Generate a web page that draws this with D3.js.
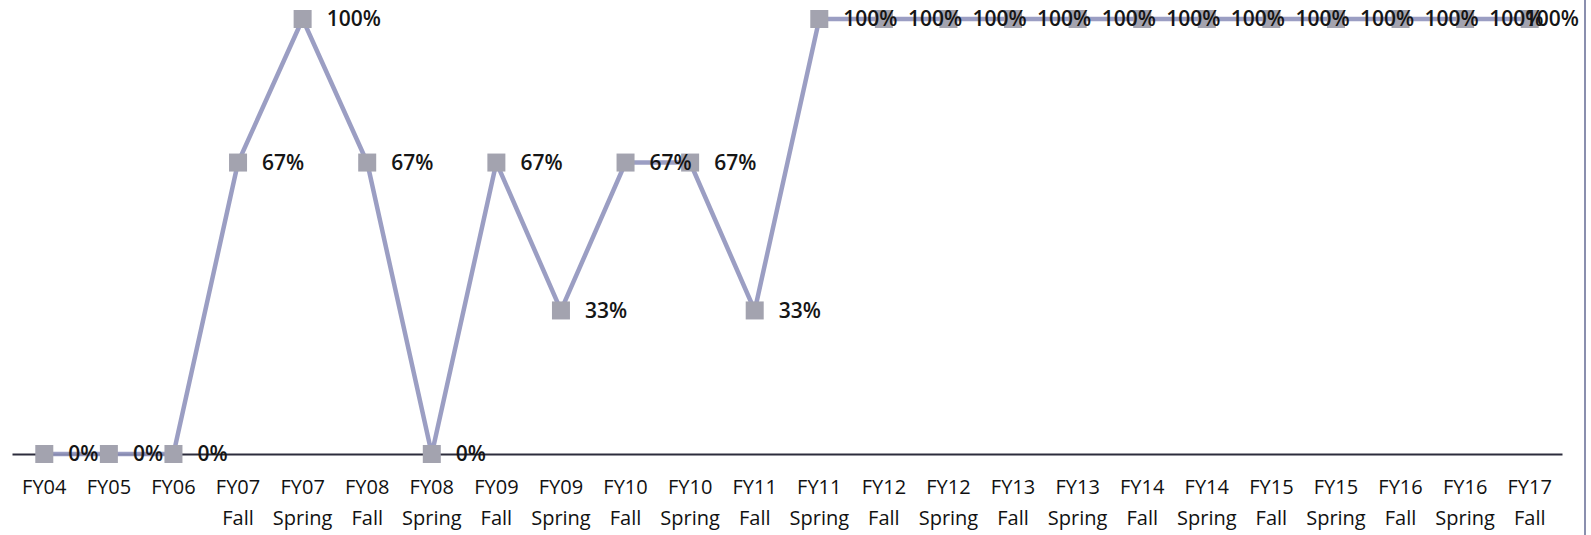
<!DOCTYPE html>
<html>
<head>
<meta charset="utf-8">
<script src="https://cdn.jsdelivr.net/npm/d3@7"></script>
<style>
  body { margin: 0; background: #fff; }
  text { font-family: "Open Sans", sans-serif; }
</style>
</head>
<body>
<div id="chart-container" style="width:1591px;height:535px"></div>
<script>
// categories (two-line tick labels) and series values
let years   = ["FY04", "FY05", "FY06", "FY07", "FY07", "FY08", "FY08", "FY09", "FY09", "FY10", "FY10", "FY11", "FY11",
               "FY12", "FY12", "FY13", "FY13", "FY14", "FY14", "FY15", "FY15", "FY16", "FY16", "FY17"],
    terms   = ["", "", "", "Fall", "Spring", "Fall", "Spring", "Fall", "Spring", "Fall", "Spring", "Fall", "Spring",
               "Fall", "Spring", "Fall", "Spring", "Fall", "Spring", "Fall", "Spring", "Fall", "Spring", "Fall"],
    values  = [0, 0, 0, 0.67, 1, 0.67, 0, 0.67, 0.33, 0.67, 0.67, 0.33, 1,
               1, 1, 1, 1, 1, 1, 1, 1, 1, 1, 1];

let categories = years.map((y, i) => terms[i] ? y + " " + terms[i] : y),
    data = categories.map((c, i) => ({ cat: c, year: years[i], term: terms[i], value: values[i] }));

let containerId = 'chart-container',
    containerWidth = 1591,
    containerHeight = 535,
    svg = d3.select(`#${containerId}`).append("svg").attr("width", containerWidth).attr("height", containerHeight);

let x = d3.scaleBand().domain(categories).range([12, 1562]),
    y = d3.scaleLinear().domain([0, 1]).range([454, 19]),
    fmt = d3.format(".0%"),
    cx = d => x(d.cat) + x.bandwidth() / 2,
    labelRight = 1579;

// right frame edge
svg.append("line")
    .attr("x1", 1585).attr("x2", 1585)
    .attr("y1", 0).attr("y2", containerHeight)
    .attr("stroke", "#8a8fae")
    .attr("stroke-width", 2);

// category axis
let axis = svg.append("g")
    .attr("transform", `translate(0,${y(0)})`)
    .call(d3.axisBottom(x).tickSize(0).tickFormat(""));

axis.select(".domain").attr("stroke", "#2c2c3c").attr("stroke-width", 2);

axis.selectAll(".tick").each(function (c, i) {
    let t = d3.select(this).append("text")
        .attr("fill", "#111")
        .attr("font-size", 20)
        .attr("font-weight", 500)
        .attr("text-anchor", "middle")
        .attr("y", 40);
    t.append("tspan").attr("x", 0).text(data[i].year);
    if (data[i].term) t.append("tspan").attr("x", 0).attr("dy", 31).text(data[i].term);
});

// series line
svg.append("path")
    .datum(data)
    .attr("fill", "none")
    .attr("stroke", "#9094bc")
    .attr("stroke-width", 4.5)
    .attr("opacity", 0.9)
    .attr("d", d3.line().x(cx).y(d => y(d.value)));

// markers
svg.append("g")
    .selectAll("rect")
    .data(data)
    .join("rect")
    .attr("x", d => cx(d) - 9)
    .attr("y", d => y(d.value) - 9)
    .attr("width", 18)
    .attr("height", 18)
    .attr("fill", "#a3a3af");

// data labels, kept inside the chart area like the original (last one overlaps its neighbour there too)
svg.append("g")
    .selectAll("text")
    .data(data)
    .join("text")
    .attr("x", d => cx(d) + 24)
    .attr("y", d => y(d.value))
    .attr("dy", "0.35em")
    .attr("font-size", 21)
    .attr("font-weight", 600)
    .attr("fill", "#151515")
    .text(d => fmt(d.value))
    .each(function () {
        let b = this.getBBox();
        if (b.x + b.width > labelRight) d3.select(this).attr("x", labelRight - b.width);
    });
</script>
</body>
</html>
